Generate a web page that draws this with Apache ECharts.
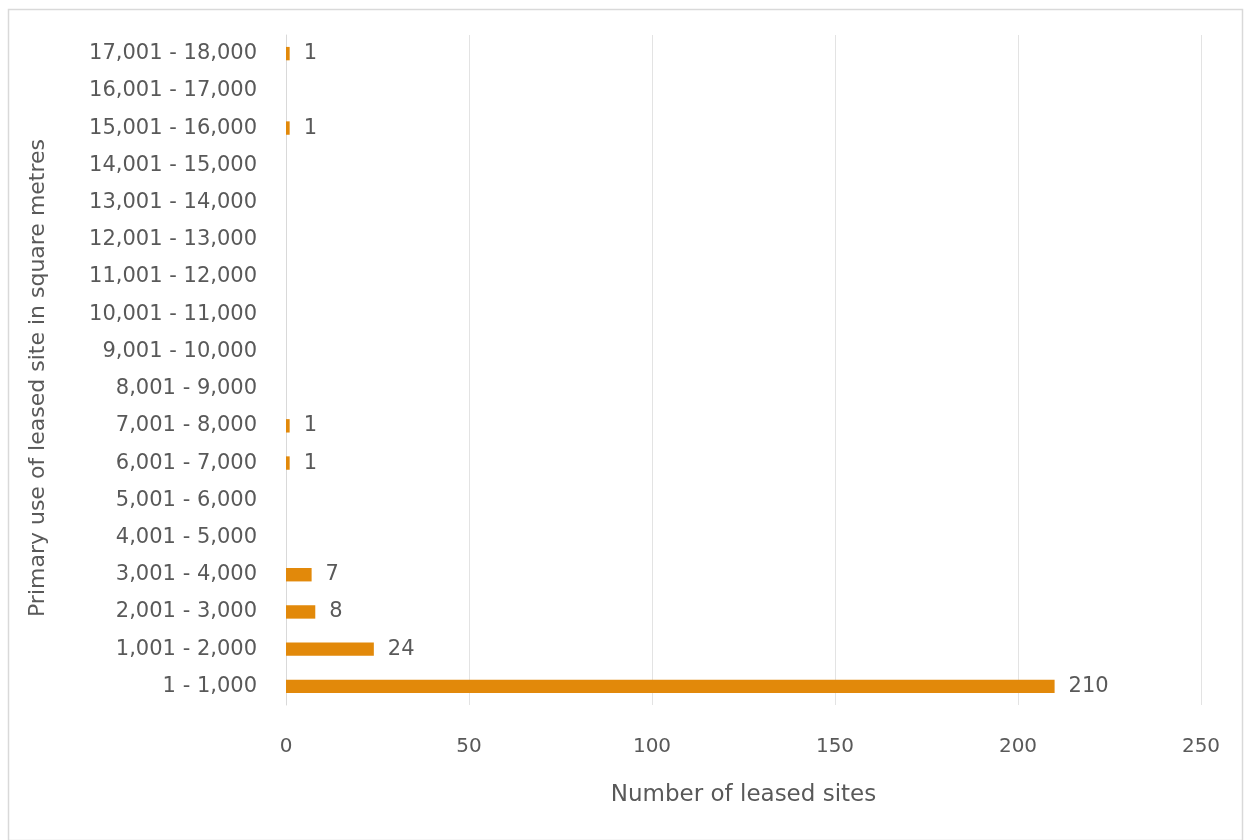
<!DOCTYPE html>
<html>
<head>
<meta charset="utf-8">
<script src="https://cdn.jsdelivr.net/npm/echarts@6/dist/echarts.min.js"></script>
<style>
  html, body { margin: 0; padding: 0; background: #ffffff; }
  #chart { width: 1245px; height: 840px; }
</style>
</head>
<body>
<div id="chart"></div>
<script>
// Floor-area bands of leased sites, bottom to top
const categories = [
  '1 - 1,000', '1,001 - 2,000', '2,001 - 3,000', '3,001 - 4,000',
  '4,001 - 5,000', '5,001 - 6,000', '6,001 - 7,000', '7,001 - 8,000',
  '8,001 - 9,000', '9,001 - 10,000', '10,001 - 11,000', '11,001 - 12,000',
  '12,001 - 13,000', '13,001 - 14,000', '14,001 - 15,000', '15,001 - 16,000',
  '16,001 - 17,000', '17,001 - 18,000'
];
// Number of leased sites in each band
const siteCounts = [210, 24, 8, 7, 0, 0, 1, 1, 0, 0, 0, 0, 0, 0, 0, 1, 0, 1];

const textColor = '#595959';
const fontFamily = '"DejaVu Sans", sans-serif';

const chart = echarts.init(document.getElementById('chart'), null, { renderer: 'canvas' });
chart.setOption({
  backgroundColor: '#ffffff',
  animation: false,
  graphic: [{
    type: 'rect',
    left: 6, top: 7,
    shape: { width: 1234, height: 831 },
    style: { fill: 'none', stroke: '#d9d9d9', lineWidth: 1.5 },
    silent: true
  }],
  grid: { left: 286, right: 44, top: 35, bottom: 135, containLabel: false },
  xAxis: {
    type: 'value',
    min: 0, max: 250, interval: 50,
    name: 'Number of leased sites',
    nameLocation: 'middle',
    nameGap: 79,
    nameTextStyle: { color: textColor, fontSize: 23, fontFamily },
    axisLine: { show: false },
    axisTick: { show: false },
    axisLabel: { color: textColor, fontSize: 20, fontFamily, margin: 32 },
    splitLine: { show: true, lineStyle: { color: '#e3e3e3', width: 1 } }
  },
  yAxis: {
    type: 'category',
    data: categories,
    name: 'Primary use of leased site in square metres',
    nameLocation: 'middle',
    nameGap: 237,
    nameRotate: 90,
    nameTextStyle: { color: textColor, fontSize: 22, fontFamily, padding: [0, 16, 0, 0] },
    axisLine: { show: true, lineStyle: { color: '#d9d9d9', width: 1 } },
    axisTick: { show: false },
    axisLabel: { color: textColor, fontSize: 21, fontFamily, margin: 29 },
    splitLine: { show: false }
  },
  series: [{
    type: 'bar',
    data: siteCounts,
    barWidth: '36%',
    itemStyle: { color: '#E2890A' },
    label: {
      show: true,
      position: 'right',
      distance: 14,
      color: textColor,
      fontSize: 21,
      fontFamily,
      formatter: p => (p.value > 0 ? String(p.value) : '')
    }
  }]
});
</script>
</body>
</html>
